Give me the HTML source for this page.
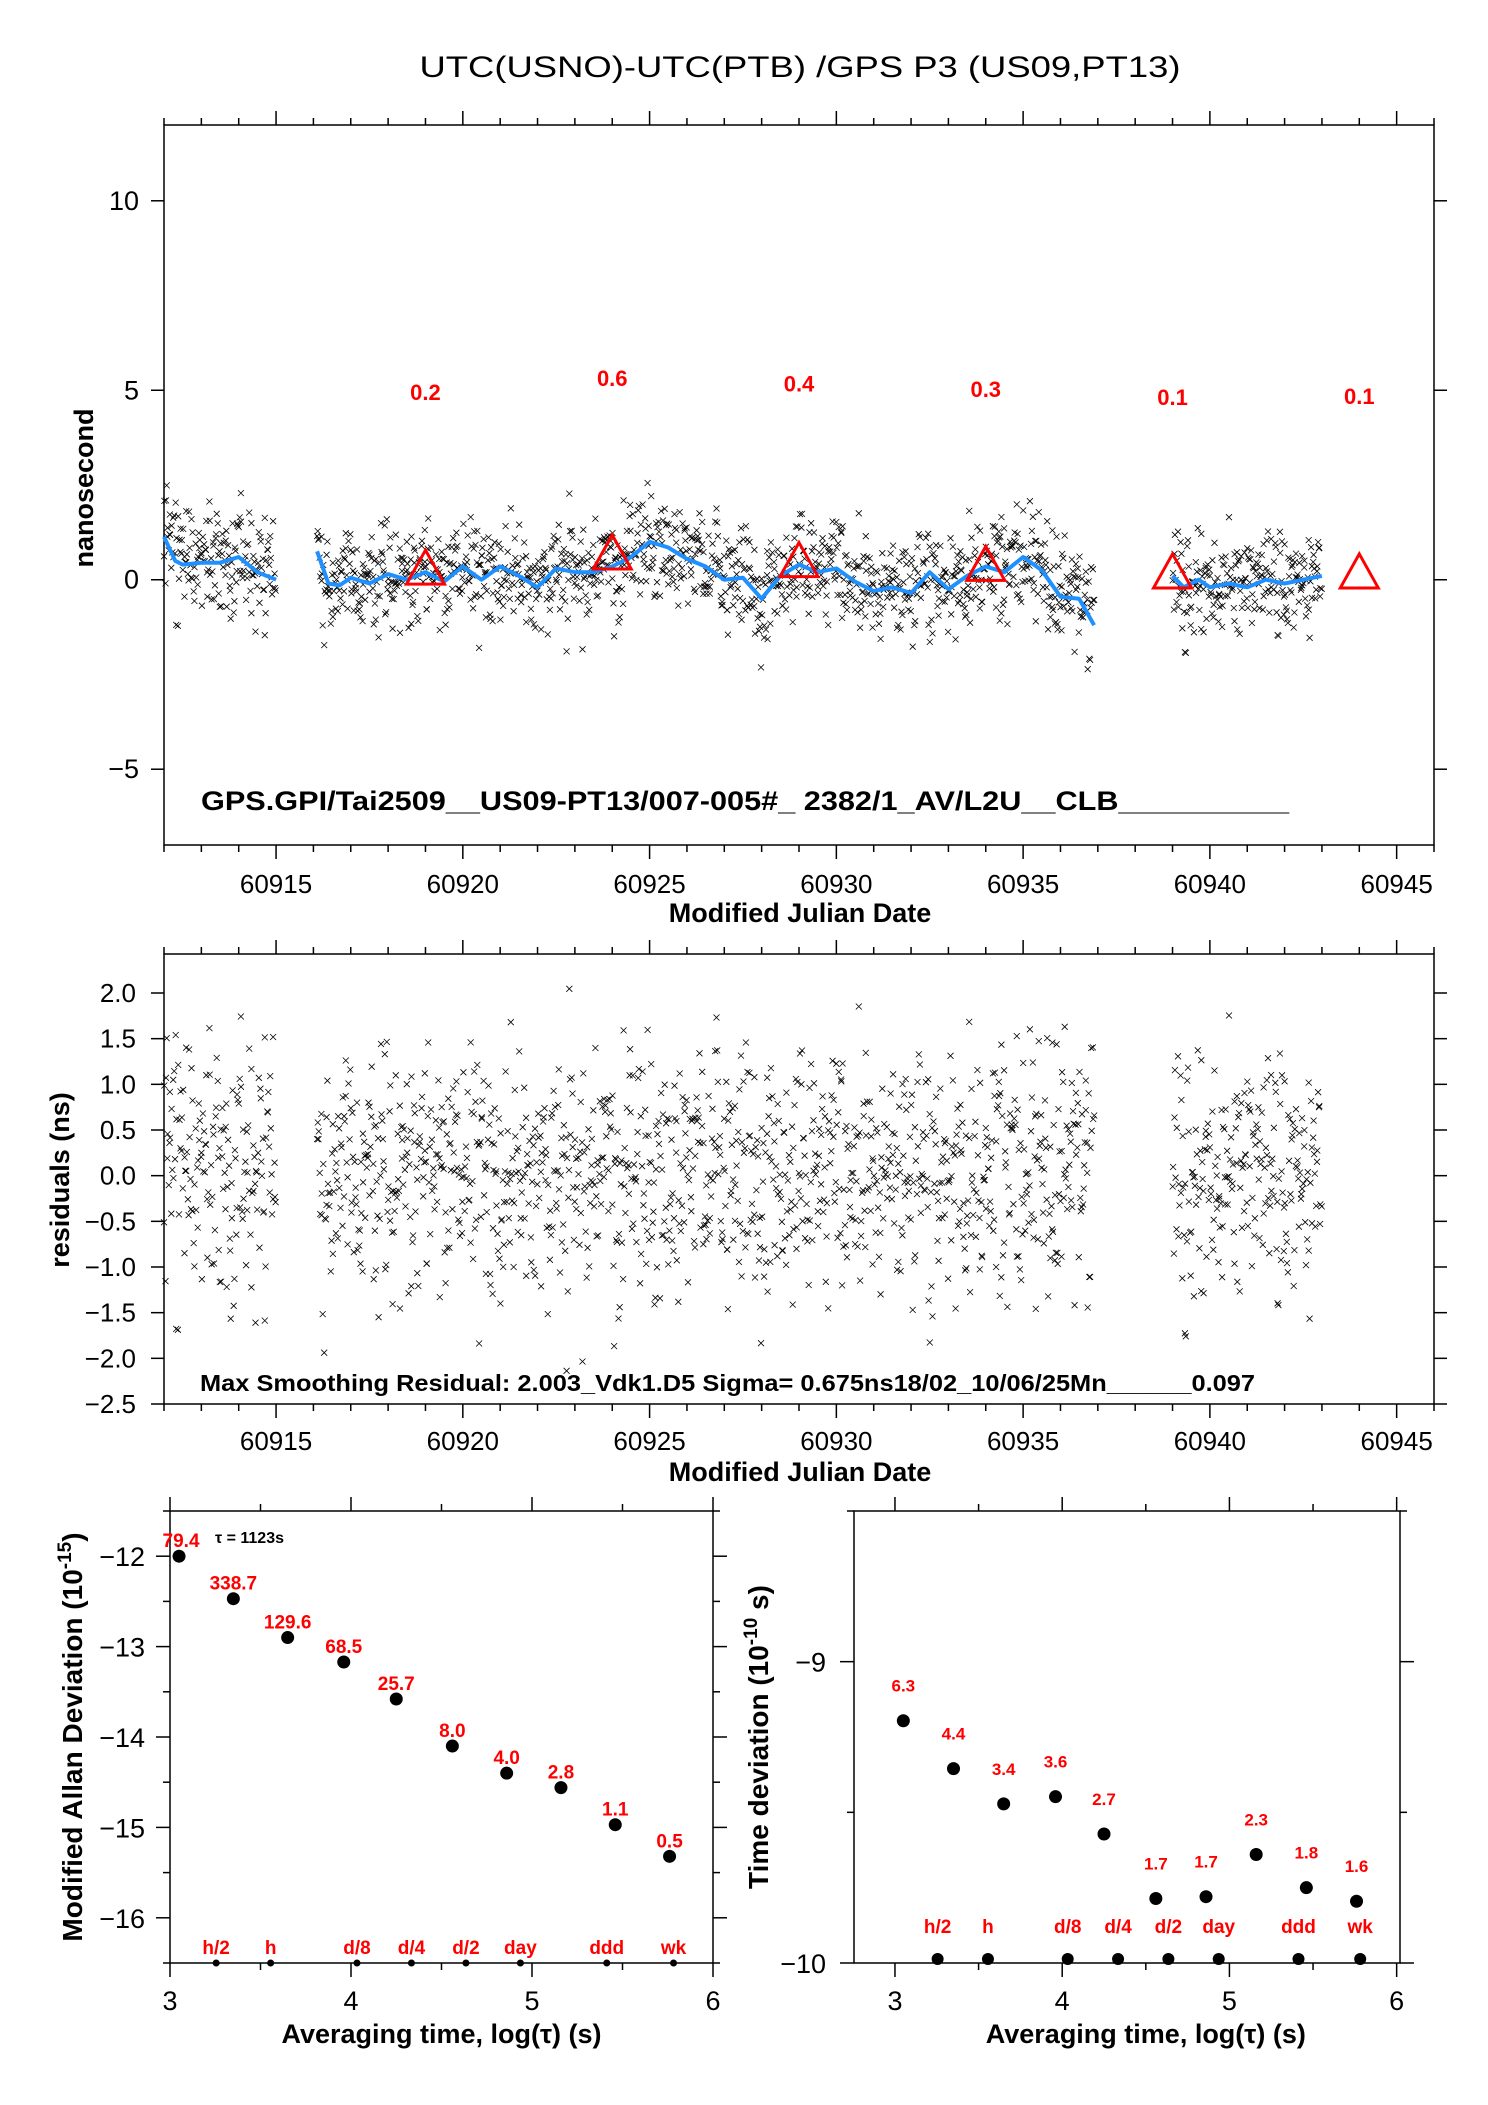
<!DOCTYPE html>
<html><head><meta charset="utf-8"><style>
html,body{margin:0;padding:0;background:#fff}
svg{display:block}
text{font-family:"Liberation Sans",sans-serif}
</style></head><body>
<svg id="svg" xmlns="http://www.w3.org/2000/svg" width="1488" height="2105" viewBox="0 0 1488 2105">
<text x="800" y="77" text-anchor="middle" font-size="30" textLength="761" lengthAdjust="spacingAndGlyphs">UTC(USNO)-UTC(PTB)  /GPS  P3  (US09,PT13)</text>
<g id="g"></g>
</svg>
<script>
// ---------------- DATA ----------------
const curveX = [60912.0,60912.3,60912.5,60913,60913.5,60914,60914.5,60915,null,60916.1,60916.4,60916.7,60917,60917.5,60918,60918.5,60919,60919.5,60920,60920.5,60921,60921.5,60922,60922.5,60923,60923.5,60924,60924.5,60925,60925.5,60926,60926.5,60927,60927.5,60928,60928.5,60929,60929.5,60930,60930.5,60931,60931.5,60932,60932.5,60933,60933.5,60934,60934.5,60935,60935.5,60936,60936.5,60936.9,null,60939,60939.3,60939.7,60940,60940.5,60941,60941.5,60942,60942.5,60943];
const curveY = [1.13,0.5,0.4,0.45,0.45,0.6,0.2,0.0,null,0.75,-0.1,-0.15,0.05,-0.1,0.15,0.0,0.2,-0.05,0.35,0.0,0.35,0.1,-0.2,0.3,0.2,0.2,0.35,0.6,1.0,0.85,0.55,0.35,0.0,0.05,-0.5,0.1,0.4,0.2,0.3,-0.05,-0.3,-0.2,-0.35,0.2,-0.25,0.1,0.35,0.2,0.6,0.25,-0.45,-0.5,-1.2,null,0.1,-0.2,0.0,-0.2,-0.1,-0.2,0.0,-0.1,0.0,0.1];
const segments = [[60912.0,60915.0],[60916.1,60936.9],[60939.0,60943.0]];
const residuals = [0.31,-0.72,1.12,-0.05,0.48,-1.31,0.66,-0.24,0.02,0.95,-0.58,-1.02,0.19,0.77,-0.41,1.45,-0.88,0.12,-0.16,0.54,-1.63,0.83,0.27,-0.33,1.71,-0.69,0.08,-0.94,0.41,1.03,-0.12,-0.47,0.62,-1.18,0.36,-0.02,1.28,-0.81,0.15,-0.55,0.89,-1.42,0.45,0.71,-0.29,-0.64,1.55,-0.09,0.24,-1.07,0.58,-0.37,0.99,-1.88,0.13,0.44,-0.76,1.19,-0.21,0.67,-0.51,-0.98,0.33,1.37,-0.14,0.79,-1.24,0.05,-0.43,0.92,-0.66,1.84,-0.31,0.21,-1.51,0.52,-0.04,0.73,-0.86,1.08,-0.19,0.38,-1.12,0.61,-0.58,1.62,-0.27,-0.91,0.47,0.17,-1.36,0.84,-0.08,0.29,-0.71,1.24,-0.45,0.56,-1.72,0.11,0.94,-0.35,-0.62,1.47,0.07,-1.01,0.42,-0.22,0.69,-1.29,1.91,-0.53,0.25,-0.83,0.63,-0.11,1.16,-1.58,0.37,-0.39,0.81,-0.97,0.18,1.33,-0.25,-0.68,0.51,-1.15,1.01,-0.06,0.28,-0.49,0.86,-0.17,0.04];
const triX = [60919,60924,60929,60934,60939,60944];
const triVal = [0.2,0.6,0.4,0.3,0.1,0.1];
const triLabelY = [4.96,5.32,5.18,5.03,4.82,4.85];
const mjdTicks = [60915,60920,60925,60930,60935,60940,60945];
const topYTicks = [-5,0,5,10];
const resYTicks = [-2.5,-2.0,-1.5,-1.0,-0.5,0.0,0.5,1.0,1.5,2.0];
const adevX = [3.05,3.35,3.65,3.96,4.25,4.56,4.86,5.16,5.46,5.76];
const adevY = [-12.0,-12.47,-12.9,-13.17,-13.58,-14.1,-14.4,-14.56,-14.97,-15.32];
const adevLbl = ["79.4","338.7","129.6","68.5","25.7","8.0","4.0","2.8","1.1","0.5"];
const tdevY = [-9.196,-9.355,-9.472,-9.448,-9.572,-9.786,-9.78,-9.64,-9.75,-9.795];
const tdevLbl = ["6.3","4.4","3.4","3.6","2.7","1.7","1.7","2.3","1.8","1.6"];
const markX = [3.255,3.556,4.033,4.334,4.635,4.936,5.413,5.782];
const markLbl = ["h/2","h","d/8","d/4","d/2","day","ddd","wk"];
const adevYTicks = [-16,-15,-14,-13,-12];
const tdevYTicks = [-10,-9];
const logTicks = [3,4,5,6];

// ---------------- DRAW ----------------
const NS="http://www.w3.org/2000/svg";
const G=document.getElementById('g');
function el(tag,attrs,parent){const e=document.createElementNS(NS,tag);for(const k in attrs)e.setAttribute(k,attrs[k]);(parent||G).appendChild(e);return e;}
function txt(s,attrs,parent){const e=el('text',attrs,parent);e.textContent=s;return e;}
function lin(d0,d1,p0,p1){return v=>p0+(v-d0)/(d1-d0)*(p1-p0);}

const topX=lin(60912,60946,164,1434), topY=lin(-7,12,845,125);
const midY=lin(-2.5,2.0,1404,993);

function frame(x0,y0,x1,y1,name){
  const r=el('rect',{x:x0,y:y0,width:x1-x0,height:y1-y0,fill:'none',stroke:'#000','stroke-width':1.5});
  
  
}
function mjdAxis(x,y0,y1,labelY,titleY){
  const g=el('g',{});
  
  
  for(let d=60912;d<=60946;d++){
    const major=d%5===0, L=major?14:7;
    el('line',{x1:x(d),x2:x(d),y1:y0,y2:y0-L,stroke:'#000','stroke-width':1.5},g);
    el('line',{x1:x(d),x2:x(d),y1:y1,y2:y1+L,stroke:'#000','stroke-width':1.5},g);
  }
  mjdTicks.forEach(t=>{const e=txt(String(t),{x:x(t),y:labelY,'text-anchor':'middle','font-size':26},g);
    });
  const tt=txt('Modified Julian Date',{x:800,y:titleY,'text-anchor':'middle','font-size':27,'font-weight':'bold'},g);
  
}
function yAxis(ticks,y,x0,x1,fmt,name,fs,lx){
  const g=el('g',{});
  
  
  ticks.forEach(t=>{
    el('line',{x1:x0,x2:x0-13,y1:y(t),y2:y(t),stroke:'#000','stroke-width':1.5},g);
    el('line',{x1:x1,x2:x1+13,y1:y(t),y2:y(t),stroke:'#000','stroke-width':1.5},g);
    const e=txt(fmt(t),{x:lx,y:y(t)+9,'text-anchor':'end','font-size':fs},g);
    
  });
}
function cross(g,px,py,name){
  const p=el('path',{d:`M${(px-3).toFixed(1)},${(py-3).toFixed(1)}l6,6m-6,0l6,-6`,stroke:'#000','stroke-width':0.8},g);
  
  
}
function curveAt(d){
  for(let i=0;i<curveX.length-1;i++){
    if(curveX[i]===null||curveX[i+1]===null)continue;
    if(d>=curveX[i]&&d<=curveX[i+1]){const f=(d-curveX[i])/(curveX[i+1]-curveX[i]);return curveY[i]+f*(curveY[i+1]-curveY[i]);}
  }
  return 0;
}

// ---- top panel ----
frame(164,125,1434,845,'top-plot-frame');
mjdAxis(topX,125,845,893,922);
yAxis(topYTicks,topY,164,1434,v=>v<0?'\u2212'+(-v):String(v),'y-axis-ns',27,139);
{const t=txt('nanosecond',{transform:'translate(93,488) rotate(-90)','text-anchor':'middle','font-size':27,'font-weight':'bold'});
 }

const gTop=el('g',{});
const gMid=el('g',{});
const N=residuals.length;
let k=0;
segments.forEach(s=>{
  for(let d=s[0];d<=s[1];d+=1/58){
    const i1=(k*37+(k*k)%97)%N, i2=(k*k*3+k*11+5)%N, i3=((k*k)%113+k*53+17)%N;
    const r=(residuals[i1]+residuals[i2]+residuals[i3]*0.6)*0.55;
    const jd=d+residuals[(k*29+(k*k)%41+3)%N]*0.007;
    k++;
    const v=curveAt(d)+r;
    cross(gTop,topX(jd),topY(v),'raw-point');
    cross(gMid,topX(jd),midY(r),'residual-point');
  }
});
// smoothing curve
{let dstr='',pen=false;
 curveX.forEach((x,i)=>{if(x===null){pen=false;return;}dstr+=(pen?'L':'M')+topX(x).toFixed(1)+','+topY(curveY[i]).toFixed(1);pen=true;});
 const p=el('path',{d:dstr,fill:'none',stroke:'#1e90ff','stroke-width':4,'stroke-linejoin':'round'});
 }
triX.forEach((x,i)=>{
  const cx=topX(x),cy=topY(triVal[i]);
  const t=el('path',{d:`M${cx},${cy-22}L${cx+19},${cy+12}L${cx-19},${cy+12}Z`,fill:'none',stroke:'#ff0000','stroke-width':3});
  
  const l=txt(triVal[i].toFixed(1),{x:cx,y:topY(triLabelY[i])+8,'text-anchor':'middle','font-size':22,'font-weight':'bold',fill:'#ff0000'});
  
});
{const t=txt('GPS.GPI/Tai2509__US09-PT13/007-005#_  2382/1_AV/L2U__CLB__________',{x:201,y:810,'font-size':27,'font-weight':'bold',textLength:1088,lengthAdjust:'spacingAndGlyphs'});
 }

// ---- middle panel ----
frame(164,954,1434,1404,'residual-plot-frame');
mjdAxis(topX,954,1404,1450,1481);
yAxis(resYTicks,midY,164,1434,v=>(v<0?'\u2212':'')+Math.abs(v).toFixed(1),'y-axis-residuals',26,136);
{const t=txt('residuals (ns)',{transform:'translate(69,1180) rotate(-90)','text-anchor':'middle','font-size':27,'font-weight':'bold'});
 }
{const t=txt('Max Smoothing Residual: 2.003_Vdk1.D5  Sigma= 0.675ns18/02_10/06/25Mn______0.097',{x:200,y:1391,'font-size':23,'font-weight':'bold',textLength:1055,lengthAdjust:'spacingAndGlyphs'});
 }

// ---- stability panels ----
const PT=1511, PB=1963;
function logPanel(x0,x1,xmin,xmax,ymin,ymax,yTicks,name,lx){
  const X=lin(xmin,xmax,x0,x1),Y=lin(ymin,ymax,PB,PT);
  frame(x0,PT,x1,PB,name);
  const g=el('g',{});
  for(let v=3;v<=6;v+=0.5){const L=Number.isInteger(v)?14:7;
    el('line',{x1:X(v),x2:X(v),y1:PT,y2:PT-L,stroke:'#000','stroke-width':1.5},g);
    el('line',{x1:X(v),x2:X(v),y1:PB,y2:PB+L,stroke:'#000','stroke-width':1.5},g);}
  logTicks.forEach(t=>{const e=txt(String(t),{x:X(t),y:2010,'text-anchor':'middle','font-size':27},g);});
  const tt=txt('Averaging time, log(\u03c4) (s)',{x:(X(3)+X(6))/2,y:2043,'text-anchor':'middle','font-size':27,'font-weight':'bold'},g);
  
  const gy=el('g',{});
  for(let v=ymin;v<=ymax+1e-9;v+=0.5){const maj=yTicks.includes(v);const L=maj?14:7;
    el('line',{x1:x0,x2:x0-L,y1:Y(v),y2:Y(v),stroke:'#000','stroke-width':1.5},gy);
    el('line',{x1:x1,x2:x1+L,y1:Y(v),y2:Y(v),stroke:'#000','stroke-width':1.5},gy);}
  yTicks.forEach(t=>{const e=txt('\u2212'+(-t),{x:lx,y:Y(t)+10,'text-anchor':'end','font-size':27},gy);});
  return {X,Y};
}
const A=logPanel(170,713,3,6,-16.5,-11.5,adevYTicks,'adev-plot-frame',145);
adevX.forEach((x,i)=>{
  const c=el('circle',{cx:A.X(x),cy:A.Y(adevY[i]),r:6.5,fill:'#000'});
  
  const l=txt(adevLbl[i],{x:A.X(x)+(i===0?2:0),y:A.Y(adevY[i])-9,'text-anchor':'middle','font-size':19,'font-weight':'bold',fill:'#ff0000'});
  
});
markX.forEach((x,i)=>{
  const c=el('circle',{cx:A.X(x),cy:PB,r:3.5,fill:'#000'});
  const l=txt(markLbl[i],{x:A.X(x),y:1954,'text-anchor':'middle','font-size':19,'font-weight':'bold',fill:'#ff0000'});
  
});
{const t=txt('\u03c4 = 1123s',{x:215,y:1543,'font-size':16,'font-weight':'bold'});}
{const t=el('text',{transform:'translate(82,1737) rotate(-90)','text-anchor':'middle','font-size':28,'font-weight':'bold'});
 t.innerHTML='Modified Allan Deviation (10<tspan font-size="19" dy="-11">-15</tspan><tspan dy="11">)</tspan>';
 }

const T=logPanel(854,1400,2.755,6.02,-10,-8.5,tdevYTicks,'tdev-plot-frame',826);
adevX.forEach((x,i)=>{
  const c=el('circle',{cx:T.X(x),cy:T.Y(tdevY[i]),r:6.5,fill:'#000'});
  
  const l=txt(tdevLbl[i],{x:T.X(x),y:T.Y(tdevY[i])-29,'text-anchor':'middle','font-size':17,'font-weight':'bold',fill:'#ff0000'});
  
});
markX.forEach((x,i)=>{
  const c=el('circle',{cx:T.X(x),cy:1959,r:6,fill:'#000'});
  const l=txt(markLbl[i],{x:T.X(x),y:1933,'text-anchor':'middle','font-size':19,'font-weight':'bold',fill:'#ff0000'});
  
});
{const t=el('text',{transform:'translate(768,1737) rotate(-90)','text-anchor':'middle','font-size':28,'font-weight':'bold'});
 t.innerHTML='Time deviation (10<tspan font-size="19" dy="-11">-10</tspan><tspan dy="11"> s)</tspan>';
 }
</script>
</body></html>
